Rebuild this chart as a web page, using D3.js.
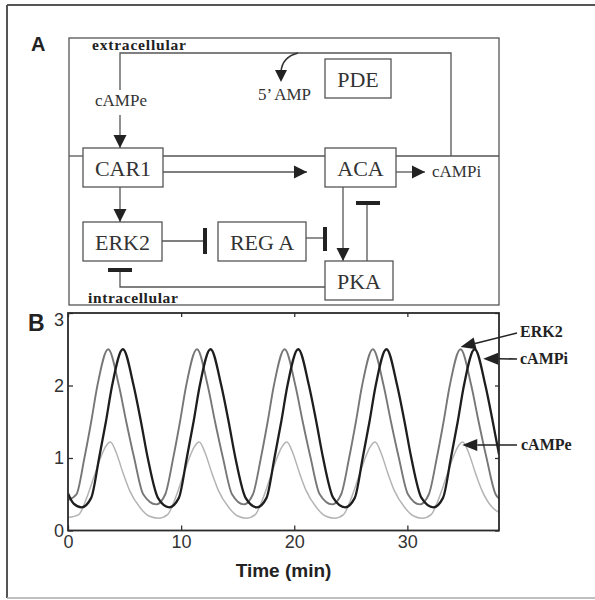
<!DOCTYPE html>
<html>
<head>
<meta charset="utf-8">
<script src="https://cdn.jsdelivr.net/npm/d3@7"></script>
<style>
  body { margin: 0; background: #fff; }
  svg { display: block; }
</style>
</head>
<body>
<script>
// simulated traces: [time (min), level]
const erk2Data = [
  [0, 0.42], [0.75, 0.5], [1.45, 1.0], [2.05, 1.5], [2.6, 2.0], [3.55, 2.5], [4.5, 2.0], [5.15, 1.5], [5.85, 1.0], [6.65, 0.5],
  [7.8, 0.36], [8.6, 0.5], [9.3, 1.0], [9.9, 1.5], [10.45, 2.0], [11.4, 2.5], [12.35, 2.0], [13.0, 1.5], [13.7, 1.0], [14.5, 0.5],
  [15.55, 0.36], [16.35, 0.5], [17.05, 1.0], [17.65, 1.5], [18.2, 2.0], [19.15, 2.5], [20.1, 2.0], [20.75, 1.5], [21.45, 1.0], [22.25, 0.5],
  [23.35, 0.36], [24.15, 0.5], [24.85, 1.0], [25.45, 1.5], [26.0, 2.0], [26.95, 2.5], [27.9, 2.0], [28.55, 1.5], [29.25, 1.0], [30.05, 0.5],
  [31.1, 0.36], [31.9, 0.5], [32.6, 1.0], [33.2, 1.5], [33.75, 2.0], [34.7, 2.5], [35.65, 2.0], [36.3, 1.5], [37.0, 1.0], [37.8, 0.5], [38.1, 0.44]
];

const campiData = [
  [0, 0.51], [0.5, 0.37], [1.2, 0.32], [2.05, 0.45], [2.75, 1.0], [3.35, 1.5], [3.9, 2.0], [4.85, 2.5], [5.8, 2.0], [6.45, 1.5], [7.05, 1.0], [7.95, 0.45],
  [8.95, 0.32], [9.8, 0.45], [10.5, 1.0], [11.1, 1.5], [11.65, 2.0], [12.6, 2.5], [13.55, 2.0], [14.2, 1.5], [14.8, 1.0], [15.7, 0.45],
  [16.7, 0.32], [17.55, 0.45], [18.25, 1.0], [18.85, 1.5], [19.4, 2.0], [20.35, 2.5], [21.3, 2.0], [21.95, 1.5], [22.55, 1.0], [23.45, 0.45],
  [24.5, 0.32], [25.35, 0.45], [26.05, 1.0], [26.65, 1.5], [27.2, 2.0], [28.15, 2.5], [29.1, 2.0], [29.75, 1.5], [30.35, 1.0], [31.25, 0.45],
  [32.3, 0.32], [33.15, 0.45], [33.85, 1.0], [34.45, 1.5], [35.0, 2.0], [35.95, 2.5], [36.9, 2.0], [37.55, 1.5], [38.1, 1.05]
];

const campeData = [
  [0, 0.18], [0.95, 0.22], [1.65, 0.45], [2.25, 0.72], [2.8, 0.97], [3.3, 1.15], [3.75, 1.22], [4.25, 1.08], [4.85, 0.8], [5.45, 0.55], [6.35, 0.32], [7.15, 0.2],
  [8.0, 0.17], [8.8, 0.22], [9.5, 0.45], [10.1, 0.72], [10.65, 0.97], [11.15, 1.15], [11.6, 1.22], [12.1, 1.08], [12.7, 0.8], [13.3, 0.55], [14.2, 0.32], [15.0, 0.2],
  [15.75, 0.17], [16.55, 0.22], [17.25, 0.45], [17.85, 0.72], [18.4, 0.97], [18.9, 1.15], [19.35, 1.22], [19.85, 1.08], [20.45, 0.8], [21.05, 0.55], [21.95, 0.32], [22.75, 0.2],
  [23.55, 0.17], [24.35, 0.22], [25.05, 0.45], [25.65, 0.72], [26.2, 0.97], [26.7, 1.15], [27.15, 1.22], [27.65, 1.08], [28.25, 0.8], [28.85, 0.55], [29.75, 0.32], [30.55, 0.2],
  [31.3, 0.17], [32.1, 0.22], [32.8, 0.45], [33.4, 0.72], [33.95, 0.97], [34.45, 1.15], [34.9, 1.22], [35.4, 1.08], [36.0, 0.8], [36.6, 0.55], [37.5, 0.32], [38.1, 0.25]
];

const xTicks = [0, 10, 20, 30];
const yTicks = [0, 1, 2, 3];

// which point of each trace the label arrows point at
const annotations = [
  { name: 'ERK2', t: 34.7, v: 2.53 },
  { name: 'cAMPi', t: 36.7, v: 2.37 },
  { name: 'cAMPe', t: 34.85, v: 1.18 }
];

const serif = '"Liberation Serif", "Times New Roman", serif';
const sans = '"Liberation Sans", Arial, sans-serif';
const ink = '#555';

const svg = d3.select('body').append('svg')
  .attr('width', 595)
  .attr('height', 600);

// outer frame (left/top dark, bottom faint as in the scan)
svg.append('line')
  .attr('x1', 7).attr('x2', 595).attr('y1', 5).attr('y2', 5)
  .attr('stroke', '#555').attr('stroke-width', 2);
svg.append('line')
  .attr('x1', 7).attr('x2', 7).attr('y1', 5).attr('y2', 598)
  .attr('stroke', '#555').attr('stroke-width', 2);
svg.append('line')
  .attr('x1', 7).attr('x2', 595).attr('y1', 598).attr('y2', 598)
  .attr('stroke', '#aaa').attr('stroke-width', 1.5);

// ---------- panel A : schematic ----------
const diagram = svg.append('g');

function arrowHead(g, x, y, dir, len = 13, half = 6.5) {
  const pts = {
    down: [[x, y], [x - half, y - len], [x + half, y - len]],
    right: [[x, y], [x - len, y - half], [x - len, y + half]]
  }[dir];
  g.append('polygon')
    .attr('points', pts.map((p) => p.join(',')).join(' '))
    .attr('fill', '#222');
}

function polyline(g, pts, width = 1.3) {
  g.append('polyline')
    .attr('points', pts.map((p) => p.join(',')).join(' '))
    .attr('fill', 'none')
    .attr('stroke', ink)
    .attr('stroke-width', width);
}

function bar(g, x, y, orient, len) {
  const h = len / 2;
  g.append('line')
    .attr('x1', orient === 'v' ? x : x - h)
    .attr('x2', orient === 'v' ? x : x + h)
    .attr('y1', orient === 'v' ? y - h : y)
    .attr('y2', orient === 'v' ? y + h : y)
    .attr('stroke', '#222')
    .attr('stroke-width', 4);
}

diagram.append('rect')
  .attr('x', 69).attr('y', 38)
  .attr('width', 430).attr('height', 267)
  .attr('fill', 'none')
  .attr('stroke', ink)
  .attr('stroke-width', 1.3);

// membrane
polyline(diagram, [[69, 156], [83, 156]]);
polyline(diagram, [[163, 156], [325, 156]]);
polyline(diagram, [[396, 156], [499, 156]]);

// secretion loop cAMPi -> cAMPe
polyline(diagram, [[451, 156], [451, 53], [120, 53], [120, 90]]);

// activating arrows
const arrows = [
  { pts: [[120, 115], [120, 148]], dir: 'down' },
  { pts: [[163, 172], [307, 172]], dir: 'right' },
  { pts: [[396, 172], [425, 172]], dir: 'right' },
  { pts: [[120, 187], [120, 222]], dir: 'down' },
  { pts: [[343, 187], [343, 261]], dir: 'down' }
];
arrows.forEach((a) => {
  polyline(diagram, a.pts);
  const tip = a.pts[a.pts.length - 1];
  arrowHead(diagram, tip[0], tip[1], a.dir);
});

// inhibitions
polyline(diagram, [[162, 241], [205, 241]]);
bar(diagram, 205, 241, 'v', 26);
polyline(diagram, [[306, 238], [325, 238]]);
bar(diagram, 325, 239, 'v', 24);
polyline(diagram, [[367, 261], [367, 203]]);
bar(diagram, 368, 203, 'h', 24);
polyline(diagram, [[325, 287], [120, 287], [120, 270]]);
bar(diagram, 120, 270, 'h', 24);

// PDE degradation to 5' AMP
diagram.append('path')
  .attr('d', 'M298,53 Q282,57 281,72')
  .attr('fill', 'none')
  .attr('stroke', '#333')
  .attr('stroke-width', 1.6);
arrowHead(diagram, 281, 82, 'down', 12, 6);

const boxes = [
  { name: 'PDE', x: 325, y: 59, w: 66, h: 39 },
  { name: 'CAR1', x: 83, y: 148, w: 80, h: 39 },
  { name: 'ACA', x: 325, y: 148, w: 71, h: 39 },
  { name: 'ERK2', x: 83, y: 222, w: 79, h: 39 },
  { name: 'REG A', x: 218, y: 222, w: 88, h: 39 },
  { name: 'PKA', x: 325, y: 261, w: 68, h: 39 }
];

const boxG = diagram.selectAll('g.box')
  .data(boxes)
  .enter()
  .append('g')
  .attr('class', 'box');

boxG.append('rect')
  .attr('x', (d) => d.x)
  .attr('y', (d) => d.y)
  .attr('width', (d) => d.w)
  .attr('height', (d) => d.h)
  .attr('fill', '#fff')
  .attr('stroke', ink)
  .attr('stroke-width', 1.3);

boxG.append('text')
  .attr('x', (d) => d.x + d.w / 2)
  .attr('y', (d) => d.y + d.h / 2 + 8)
  .attr('text-anchor', 'middle')
  .attr('font-family', serif)
  .attr('font-size', 22)
  .attr('fill', '#333')
  .text((d) => d.name);

const labelsA = [
  { text: 'cAMPe', x: 95, y: 106 },
  { text: '5\u2019 AMP', x: 258, y: 100 },
  { text: 'cAMPi', x: 432, y: 177 }
];
diagram.selectAll('text.lbl')
  .data(labelsA)
  .enter()
  .append('text')
  .attr('class', 'lbl')
  .attr('x', (d) => d.x)
  .attr('y', (d) => d.y)
  .attr('font-family', serif)
  .attr('font-size', 17)
  .attr('fill', '#333')
  .text((d) => d.text);

diagram.append('text')
  .attr('x', 92).attr('y', 50)
  .attr('font-family', serif).attr('font-weight', 'bold')
  .attr('font-size', 15.5).attr('letter-spacing', 0.8)
  .attr('fill', '#222')
  .text('extracellular');

diagram.append('text')
  .attr('x', 88).attr('y', 303)
  .attr('font-family', serif).attr('font-weight', 'bold')
  .attr('font-size', 15.5).attr('letter-spacing', 0.6)
  .attr('fill', '#222')
  .text('intracellular');

svg.append('text')
  .attr('x', 31).attr('y', 51)
  .attr('font-family', sans).attr('font-weight', 'bold')
  .attr('font-size', 20).attr('fill', '#222')
  .text('A');

svg.append('text')
  .attr('x', 28).attr('y', 331)
  .attr('font-family', sans).attr('font-weight', 'bold')
  .attr('font-size', 23).attr('fill', '#222')
  .text('B');

// ---------- panel B : time courses ----------
const plot = { left: 68, right: 499, top: 313, bottom: 530.5 };

const x = d3.scaleLinear().domain([0, 38.1]).range([plot.left, plot.right]);
const y = d3.scaleLinear().domain([0, 3]).range([plot.bottom, plot.top]);

svg.append('clipPath').attr('id', 'plotClip')
  .append('rect')
  .attr('x', plot.left).attr('y', plot.top)
  .attr('width', plot.right - plot.left)
  .attr('height', plot.bottom - plot.top);

const line = d3.line()
  .x((d) => x(d[0]))
  .y((d) => y(d[1]))
  .curve(d3.curveMonotoneX);

const series = [
  { name: 'cAMPe', data: campeData, color: '#b4b4b4', width: 1.5 },
  { name: 'ERK2', data: erk2Data, color: '#777', width: 1.9 },
  { name: 'cAMPi', data: campiData, color: '#1e1e1e', width: 2.3 }
];

svg.append('g')
  .attr('clip-path', 'url(#plotClip)')
  .selectAll('path')
  .data(series)
  .enter()
  .append('path')
  .attr('d', (d) => line(d.data))
  .attr('fill', 'none')
  .attr('stroke', (d) => d.color)
  .attr('stroke-width', (d) => d.width);

// axes with inward ticks on all four sides
function styleAxis(g) {
  g.select('.domain').remove();
  g.selectAll('.tick line').attr('stroke', '#333').attr('stroke-width', 1.3);
  g.selectAll('.tick text')
    .attr('font-family', sans)
    .attr('font-size', 18)
    .attr('fill', '#333');
}

svg.append('g')
  .attr('transform', `translate(0,${plot.bottom})`)
  .call(d3.axisBottom(x).tickValues(xTicks).tickFormat(d3.format('d'))
    .tickSizeInner(-5).tickSizeOuter(0).tickPadding(5))
  .call(styleAxis);

svg.append('g')
  .attr('transform', `translate(0,${plot.top})`)
  .call(d3.axisTop(x).tickValues(xTicks).tickSizeInner(-4).tickSizeOuter(0).tickFormat(''))
  .call(styleAxis);

const yAxis = svg.append('g')
  .attr('transform', `translate(${plot.left},0)`)
  .call(d3.axisLeft(y).tickValues(yTicks).tickFormat(d3.format('d'))
    .tickSizeInner(-5).tickSizeOuter(0).tickPadding(4))
  .call(styleAxis);
// the top label sits a little below its tick in the original
yAxis.selectAll('.tick text').filter((d) => d === 3).attr('dy', '0.7em');

svg.append('g')
  .attr('transform', `translate(${plot.right},0)`)
  .call(d3.axisRight(y).tickValues(yTicks).tickSizeInner(-4).tickSizeOuter(0).tickFormat(''))
  .call(styleAxis);

svg.append('rect')
  .attr('x', plot.left).attr('y', plot.top)
  .attr('width', plot.right - plot.left)
  .attr('height', plot.bottom - plot.top)
  .attr('fill', 'none')
  .attr('stroke', '#2a2a2a')
  .attr('stroke-width', 1.8);

svg.append('text')
  .attr('x', (plot.left + plot.right) / 2)
  .attr('y', 577)
  .attr('text-anchor', 'middle')
  .attr('font-family', sans)
  .attr('font-weight', 'bold')
  .attr('font-size', 19)
  .attr('fill', '#222')
  .text('Time (min)');

// trace labels with pointer arrows
const labelPos = {
  ERK2: { x: 520, y: 337, lx: 517, ly: 333 },
  cAMPi: { x: 520, y: 364, lx: 517, ly: 359 },
  cAMPe: { x: 521, y: 450, lx: 517, ly: 445 }
};

const ann = svg.append('g');
annotations.forEach((a) => {
  const p = labelPos[a.name];
  const tx = x(a.t), ty = y(a.v);
  const ang = Math.atan2(ty - p.ly, tx - p.lx);
  const len = 15, half = 6;
  const bx = tx - len * Math.cos(ang), by = ty - len * Math.sin(ang);
  ann.append('line')
    .attr('x1', p.lx).attr('y1', p.ly)
    .attr('x2', bx).attr('y2', by)
    .attr('stroke', '#222').attr('stroke-width', 1.6);
  const nx = -Math.sin(ang) * half, ny = Math.cos(ang) * half;
  ann.append('polygon')
    .attr('points', `${tx},${ty} ${bx + nx},${by + ny} ${bx - nx},${by - ny}`)
    .attr('fill', '#222');
  ann.append('text')
    .attr('x', p.x).attr('y', p.y)
    .attr('font-family', serif)
    .attr('font-weight', 'bold')
    .attr('font-size', 16)
    .attr('fill', '#222')
    .text(a.name);
});
</script>
</body>
</html>
